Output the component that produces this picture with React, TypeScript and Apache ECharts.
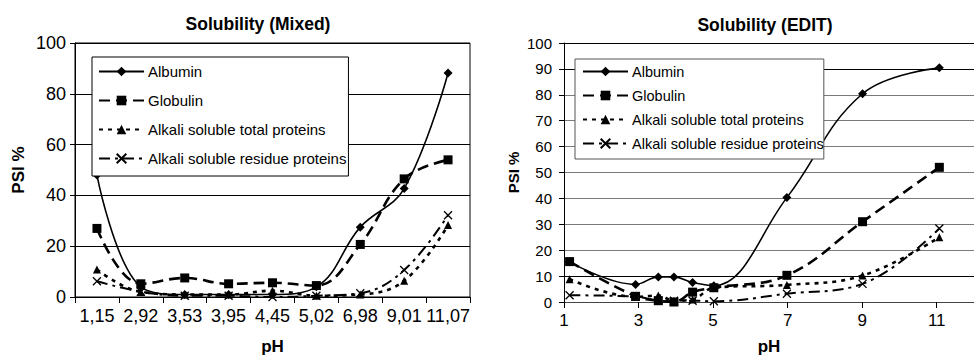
import React, { useEffect, useRef } from 'react';
import * as echarts from 'echarts';

const seriesNames = ['Albumin', 'Globulin', 'Alkali soluble total proteins', 'Alkali soluble residue proteins'];
const phLabels = ['1,15', '2,92', '3,53', '3,95', '4,45', '5,02', '6,98', '9,01', '11,07'];
const phValues = [1.15, 2.92, 3.53, 3.95, 4.45, 5.02, 6.98, 9.01, 11.07];

// Solubility (Mixed)
const mixedAlbumin = [48, 4, 1, 1, 1, 4, 27.5, 42.7, 88.2];
const mixedGlobulin = [27, 5.2, 7.5, 5.2, 5.6, 4.5, 20.7, 46.5, 54];
const mixedTotal = [10.8, 2, 1, 1, 2.5, 0.5, 1, 6.4, 28.3];
const mixedResidue = [6.2, 2.1, 0.5, 0.5, 0, 0.5, 1.5, 10.6, 32.2];

// Solubility (EDIT)
const editAlbumin = [15.5, 6.8, 9.7, 9.7, 7.5, 6.3, 40.3, 80.4, 90.4];
const editGlobulin = [15.6, 2.2, 0.5, 0, 3.8, 5.5, 10.3, 31, 52];
const editTotal = [8.8, 2, 2.5, 0.5, 1, 5.5, 6.6, 10.2, 25];
const editResidue = [2.6, 2.1, 0.6, 0.5, 0.5, 0.3, 3.2, 7, 28.4];

const yTicksMixed = [0, 20, 40, 60, 80, 100];
const yTicksEdit = [0, 10, 20, 30, 40, 50, 60, 70, 80, 90, 100];
const xTicksEdit = [1, 3, 5, 7, 9, 11];

const FONT = '"Liberation Sans", Arial, Helvetica, sans-serif';

const styles = [
  { symbol: 'diamond', symbolSize: 9, lineStyle: { color: '#000', width: 1.6, type: 'solid' as any } },
  { symbol: 'rect', symbolSize: 9, lineStyle: { color: '#000', width: 2.6, type: [11, 6] as any } },
  { symbol: 'triangle', symbolSize: 8, lineStyle: { color: '#000', width: 2.6, type: [4, 5] as any } },
  { symbol: 'path://M0,0L10,10M10,0L0,10', symbolSize: 8, lineStyle: { color: '#000', width: 2, type: [11, 5, 3, 5] as any } },
];

function mk(name: string, idx: number, data: any[], gridIndex: number) {
  const s = styles[idx];
  const isX = idx === 3;
  return {
    type: 'line',
    name,
    xAxisIndex: gridIndex,
    yAxisIndex: gridIndex,
    data,
    smooth: 0.4,
    symbol: s.symbol,
    symbolSize: s.symbolSize,
    showSymbol: true,
    lineStyle: s.lineStyle,
    itemStyle: isX
      ? { color: 'none', borderColor: '#000', borderWidth: 1.3 }
      : { color: '#000', borderColor: '#000', borderWidth: 0 },
    z: 10 - idx,
  };
}

export default function App() {
  const ref = useRef<HTMLDivElement>(null);
  useEffect(() => {
    document.body.style.margin = '0';
    if (!ref.current) return;
    const chart = echarts.init(ref.current, null, { renderer: 'svg' });
    const mixed = [mixedAlbumin, mixedGlobulin, mixedTotal, mixedResidue];
    const edit = [editAlbumin, editGlobulin, editTotal, editResidue];
    const editColors = yTicksEdit.map((v) => (v === 10 || v === 90 || v === 100 ? '#000' : '#7a7a7a'));

    const option: any = {
      animation: false,
      backgroundColor: '#fff',
      textStyle: { fontFamily: FONT, color: '#000' },
      title: [
        { text: 'Solubility (Mixed)', left: 253, top: 10, textAlign: 'center', textStyle: { fontFamily: FONT, fontSize: 17.5, fontWeight: 'bold', color: '#000' } },
        { text: 'Solubility (EDIT)', left: 760, top: 11, textAlign: 'center', textStyle: { fontFamily: FONT, fontSize: 17.5, fontWeight: 'bold', color: '#000' } },
      ],
      legend: [
        {
          data: seriesNames,
          orient: 'vertical',
          left: 92,
          top: 57,
          itemWidth: 45,
          itemHeight: 12,
          itemGap: 14,
          padding: [7, 2, 10, 6],
          borderColor: '#000',
          borderWidth: 1,
          backgroundColor: '#fff',
          textStyle: { fontFamily: FONT, fontSize: 15, color: '#000', padding: [0, 0, 0, -1] },
          selectedMode: false,
          z: 20,
        },
        {
          data: seriesNames,
          orient: 'vertical',
          left: 575,
          top: 59,
          itemWidth: 45,
          itemHeight: 12,
          itemGap: 9,
          padding: [5, 0, 8, 7],
          borderColor: '#555',
          borderWidth: 1,
          backgroundColor: '#fff',
          textStyle: { fontFamily: FONT, fontSize: 14.5, color: '#000', padding: [0, 0, 0, -1] },
          selectedMode: false,
          z: 20,
        },
      ],
      grid: [
        { left: 75, top: 43, width: 395, height: 254.5, show: true, borderColor: '#000', borderWidth: 1, backgroundColor: 'transparent' },
        { left: 564, top: 43, width: 410, height: 265 },
      ],
      xAxis: [
        {
          type: 'category',
          gridIndex: 0,
          data: phLabels,
          boundaryGap: true,
          name: 'pH',
          nameLocation: 'middle',
          nameGap: 41,
          nameTextStyle: { fontFamily: FONT, fontSize: 17, fontWeight: 'bold', color: '#000' },
          axisLine: { lineStyle: { color: '#000', width: 1 } },
          axisTick: { show: true, length: 6, lineStyle: { color: '#000' } },
          axisLabel: { fontFamily: FONT, fontSize: 18, color: '#000', margin: 10, interval: 0 },
          splitLine: { show: false },
        },
        {
          type: 'value',
          gridIndex: 1,
          min: 1,
          max: 12,
          interval: 2,
          name: 'pH',
          nameLocation: 'middle',
          nameGap: 36,
          nameTextStyle: { fontFamily: FONT, fontSize: 17, fontWeight: 'bold', color: '#000' },
          axisLine: { onZero: false, lineStyle: { color: '#444', width: 1 } },
          axisTick: { show: true, length: 6, lineStyle: { color: '#000' } },
          axisLabel: {
            fontFamily: FONT, fontSize: 17, color: '#000', margin: 10, showMaxLabel: false,
            formatter: (v: number) => (xTicksEdit.indexOf(v) >= 0 ? String(v) : ''),
          },
          splitLine: { show: false },
        },
      ],
      yAxis: [
        {
          type: 'value',
          gridIndex: 0,
          min: 0,
          max: 100,
          interval: 20,
          name: 'PSI %',
          nameLocation: 'middle',
          nameGap: 48,
          nameTextStyle: { fontFamily: FONT, fontSize: 17, fontWeight: 'bold', color: '#000' },
          axisLine: { show: true, lineStyle: { color: '#000', width: 1 } },
          axisTick: { show: true, length: 5, lineStyle: { color: '#000' } },
          axisLabel: {
            fontFamily: FONT, fontSize: 18, color: '#000', margin: 9,
            formatter: (v: number) => (yTicksMixed.indexOf(v) >= 0 ? String(v) : ''),
          },
          splitLine: { show: true, lineStyle: { color: '#000', width: 1 } },
        },
        {
          type: 'value',
          gridIndex: 1,
          min: 0,
          max: 100,
          interval: 10,
          name: 'PSI %',
          nameLocation: 'middle',
          nameGap: 43,
          nameTextStyle: { fontFamily: FONT, fontSize: 15, fontWeight: 'bold', color: '#000' },
          axisLine: { show: true, lineStyle: { color: '#000', width: 1 } },
          axisTick: { show: true, length: 5, lineStyle: { color: '#000' } },
          axisLabel: {
            fontFamily: FONT, fontSize: 15, color: '#000', margin: 12,
            formatter: (v: number) => (yTicksEdit.indexOf(v) >= 0 ? String(v) : ''),
          },
          splitLine: { show: true, lineStyle: { color: editColors, width: 1 } },
        },
      ],
      series: [
        ...seriesNames.map((n, i) => mk(n, i, mixed[i], 0)),
        ...seriesNames.map((n, i) => mk(n, i, edit[i].map((v, j) => [phValues[j], v]), 1)),
      ],
    };
    chart.setOption(option);
    return () => chart.dispose();
  }, []);
  return <div ref={ref} style={{ width: 974, height: 360 }} />;
}
